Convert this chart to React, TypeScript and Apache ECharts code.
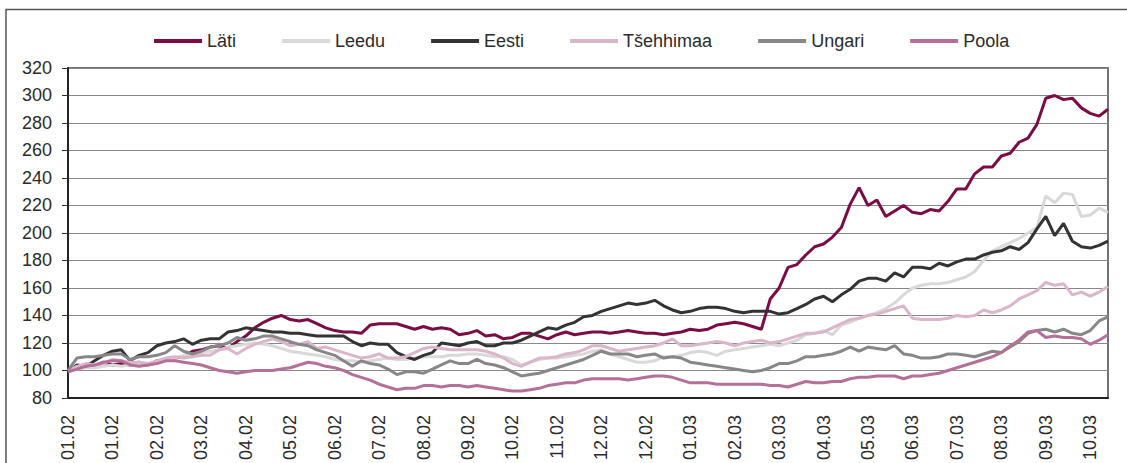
import React, { useEffect, useRef } from "react";
import * as echarts from "echarts";

const tickLabels = [
  "01.02", "01.02", "02.02", "03.02", "04.02", "05.02", "06.02", "07.02",
  "08.02", "09.02", "10.02", "11.02", "12.02", "12.02", "01.03", "02.03",
  "03.03", "04.03", "05.03", "06.03", "07.03", "08.03", "09.03", "10.03",
];

const seriesNames = ["Läti", "Leedu", "Eesti", "Tšehhimaa", "Ungari", "Poola"];
const seriesColors = ["#7b0c45", "#d9d9d9", "#333333", "#dbb5c9", "#878787", "#b5709a"];

const lati = [
  99, 103, 104, 103, 106, 104, 105, 104, 106, 104,
  107, 108, 109, 110, 114, 115, 117, 118, 116, 121,
  125, 131, 135, 138, 140, 137, 136, 137, 134, 131,
  129, 128, 128, 127, 133, 134, 134, 134, 132, 130,
  132, 130, 131, 130, 126, 127, 129, 125, 126, 123,
  124, 127, 127, 125, 123, 126, 128, 126, 127, 128,
  128, 127, 128, 129, 128, 127, 127, 126, 127, 128,
  130, 129, 130, 133, 134, 135, 134, 132, 130, 152,
  160, 175, 177, 184, 190, 192, 197, 204, 221, 233,
  220, 224, 212, 216, 220, 215, 214, 217, 216, 223,
  232, 232, 243, 248, 248, 256, 258, 266, 269, 279,
  298, 300, 297, 298, 291, 287, 285, 290,
];

const leedu = [
  99, 101, 102, 102, 103, 104, 103, 104, 105, 104,
  106, 108, 109, 111, 111, 113, 114, 115, 117, 118,
  119, 120, 119, 118, 116, 114, 113, 112, 111, 110,
  108, 107, 107, 106, 107, 108, 109, 108, 108, 109,
  110, 110, 110, 111, 111, 112, 112, 111, 110, 110,
  108, 104, 106, 108, 109, 109, 110, 111, 112, 114,
  115, 112, 110, 108, 106, 106, 107, 110, 110, 111,
  113, 114, 113, 111, 114, 115, 116, 117, 118, 119,
  118, 120, 122, 126, 127, 129, 126, 133, 135, 138,
  140, 142, 145, 149, 155, 160, 162, 163, 163, 164,
  166, 168, 172, 180, 187, 190, 193, 196, 200, 204,
  227, 222, 229, 228, 212, 213, 218, 215,
];

const eesti = [
  99, 104, 103, 107, 111, 114, 115, 107, 111, 113,
  118, 120, 121, 123, 119, 122, 123, 123, 128, 129,
  131, 130, 129, 128, 128, 127, 127, 126, 125, 125,
  125, 125, 121, 118, 120, 119, 119, 113, 110, 108,
  111, 113, 120, 119, 118, 120, 121, 118, 118, 120,
  120, 122, 125, 128, 131, 130, 133, 135, 139, 140,
  143, 145, 147, 149, 148, 149, 151, 147, 144, 142,
  143, 145, 146, 146, 145, 143, 142, 143, 143, 143,
  141, 142, 145, 148, 152, 154, 150, 155, 159, 165,
  167, 167, 165, 171, 168, 175, 175, 174, 178, 176,
  179, 181, 181, 184, 186, 187, 190, 188, 193, 203,
  212, 198, 207, 194, 190, 189, 191, 194,
];

const tsehhimaa = [
  100, 103, 105, 104, 105, 108, 107, 106, 106, 105,
  107, 109, 110, 109, 110, 111, 111, 115, 116, 112,
  116, 119, 121, 123, 121, 118, 119, 121, 116, 117,
  115, 113, 111, 109, 110, 112, 109, 109, 110, 113,
  116, 117, 116, 115, 115, 115, 115, 114, 112, 109,
  105, 103, 106, 109, 109, 110, 112, 113, 115, 118,
  118, 116, 114, 115, 116, 117, 118, 120, 123, 118,
  118, 119, 120, 121, 120, 118, 120, 121, 122, 120,
  121, 123, 125, 127, 127, 128, 131, 134, 137, 138,
  140, 141, 143, 145, 147, 138, 137, 137, 137, 138,
  140, 139, 140, 144, 142, 144, 147, 152, 155, 158,
  164, 162, 163, 155, 157, 154, 157, 161,
];

const ungari = [
  100, 109, 110, 110, 111, 112, 112, 108, 110, 110,
  111, 113, 118, 114, 112, 114, 117, 118, 120, 124,
  122, 123, 125, 125, 123, 121, 119, 118, 115, 113,
  111, 107, 103, 107, 105, 104, 101, 97, 99, 99,
  98, 101, 104, 107, 105, 105, 108, 105, 104, 102,
  99, 96, 97, 98, 100, 102, 104, 106, 108, 111,
  114, 112, 112, 112, 110, 111, 112, 109, 110, 109,
  106, 105, 104, 103, 102, 101, 100, 99, 100, 102,
  105, 105, 107, 110, 110, 111, 112, 114, 117, 114,
  117, 116, 115, 118, 112, 111, 109, 109, 110, 112,
  112, 111, 110, 112, 114, 113, 117, 121, 127, 129,
  130, 128, 130, 127, 126, 129, 136, 139,
];

const poola = [
  99, 101, 103, 104, 106, 107, 107, 104, 103, 104,
  105, 107, 107, 106, 105, 104, 102, 100, 99, 98,
  99, 100, 100, 100, 101, 102, 104, 106, 105, 103,
  102, 100, 97, 95, 93, 90, 88, 86, 87, 87,
  89, 89, 88, 89, 89, 88, 89, 88, 87, 86,
  85, 85, 86, 87, 89, 90, 91, 91, 93, 94,
  94, 94, 94, 93, 94, 95, 96, 96, 95, 93,
  91, 91, 91, 90, 90, 90, 90, 90, 90, 89,
  89, 88, 90, 92, 91, 91, 92, 92, 94, 95,
  95, 96, 96, 96, 94, 96, 96, 97, 98, 100,
  102, 104, 106, 108, 110, 113, 118, 122, 128, 129,
  124, 125, 124, 124, 123, 119, 122, 126,
];

const seriesValues = [lati, leedu, eesti, tsehhimaa, ungari, poola];

const FONT = "'Liberation Sans', Arial, sans-serif";
const TEXT = "#2b2b2b";

export default function App() {
  const ref = useRef<HTMLDivElement>(null);

  useEffect(() => {
    if (!ref.current) return;
    const chart = echarts.init(ref.current, null, { renderer: "svg" });
    const categories = lati.map((_, i) =>
      i % 5 === 0 && tickLabels[i / 5] !== undefined ? tickLabels[i / 5] : ""
    );

    chart.setOption({
      animation: false,
      backgroundColor: "#ffffff",
      textStyle: { fontFamily: FONT },
      graphic: [
        {
          type: "rect",
          shape: { x: 6, y: 9.5, width: 1200, height: 520 },
          style: { fill: "none", stroke: "#555555", lineWidth: 1.5 },
          silent: true,
          z: 0,
        },
      ],
      legend: {
        left: 149,
        top: 27,
        itemWidth: 48,
        itemHeight: 4,
        itemGap: 46,
        icon: "rect",
        textStyle: { fontSize: 18, color: TEXT, fontFamily: FONT },
        data: seriesNames,
      },
      grid: {
        left: 68,
        right: 19,
        top: 68,
        bottom: 61,
        show: true,
        borderColor: "#444444",
        borderWidth: 1.5,
      },
      xAxis: {
        type: "category",
        boundaryGap: false,
        data: categories,
        axisLine: { show: true, lineStyle: { color: "#222222", width: 2 } },
        axisTick: { show: false },
        splitLine: { show: false },
        axisLabel: {
          interval: 4,
          rotate: 90,
          margin: 17,
          fontSize: 18,
          color: TEXT,
          fontFamily: FONT,
        },
      },
      yAxis: {
        type: "value",
        min: 80,
        max: 320,
        interval: 20,
        axisLine: { show: true, lineStyle: { color: "#222222", width: 2 } },
        axisTick: { show: true, length: 6, lineStyle: { color: "#333333" } },
        axisLabel: { fontSize: 18, margin: 16, color: TEXT, fontFamily: FONT },
        splitLine: { show: true, lineStyle: { color: "#888888", width: 1 } },
      },
      series: seriesNames.map((name, k) => ({
        name,
        type: "line",
        data: seriesValues[k],
        symbol: "none",
        showSymbol: false,
        color: seriesColors[k],
        lineStyle: { width: 3, color: seriesColors[k] },
        z: 2 + k,
      })),
    });

    return () => chart.dispose();
  }, []);

  return (
    <div
      ref={ref}
      style={{ position: "absolute", left: 0, top: 0, width: 1127, height: 463 }}
    />
  );
}
